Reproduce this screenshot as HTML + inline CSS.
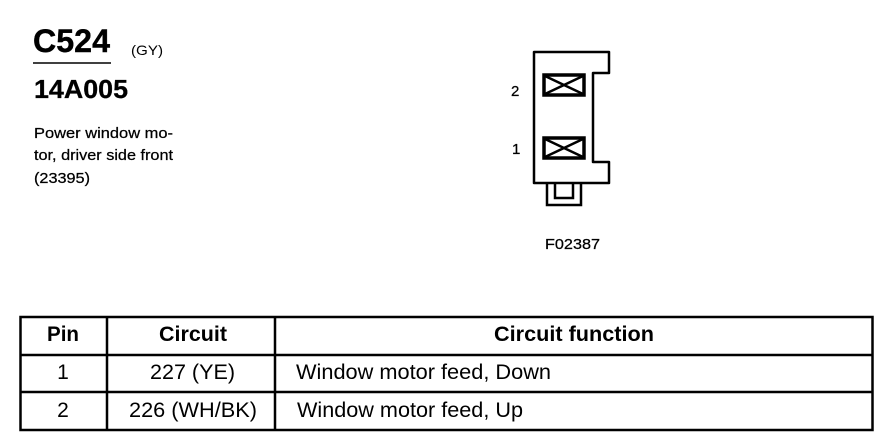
<!DOCTYPE html>
<html>
<head>
<meta charset="utf-8">
<style>
html,body{margin:0;padding:0;background:#fff;width:890px;height:448px;overflow:hidden}
svg{display:block}
text{font-family:"Liberation Sans",sans-serif;fill:#000}
</style>
</head>
<body>
<svg width="890" height="448" viewBox="0 0 890 448" xmlns="http://www.w3.org/2000/svg">
<!-- Header text -->
<text x="33" y="52" font-size="32" font-weight="bold" stroke="#000" stroke-width="0.4" textLength="77" lengthAdjust="spacingAndGlyphs">C524</text>
<text x="131" y="55" font-size="14" textLength="32" lengthAdjust="spacingAndGlyphs">(GY)</text>
<line x1="33" y1="63" x2="111" y2="63" stroke="#000" stroke-width="1.5"/>
<text x="34" y="98" font-size="25.5" font-weight="bold" stroke="#000" stroke-width="0.3" textLength="94" lengthAdjust="spacingAndGlyphs">14A005</text>
<g stroke="#000" stroke-width="0.25">
<text x="34" y="138" font-size="15" textLength="139" lengthAdjust="spacingAndGlyphs">Power window mo-</text>
<text x="34" y="160" font-size="15" textLength="139" lengthAdjust="spacingAndGlyphs">tor, driver side front</text>
<text x="34" y="183" font-size="15" textLength="56" lengthAdjust="spacingAndGlyphs">(23395)</text>
</g>

<!-- Connector -->
<path d="M534 52 H609 V73 H593 V162 H609 V183 H534 Z" fill="#fff" stroke="#000" stroke-width="2.5" stroke-linejoin="round"/>
<path d="M547 184 V205 H581 V184" fill="none" stroke="#000" stroke-width="2.5"/>
<path d="M555 184 V198 H573 V184" fill="none" stroke="#000" stroke-width="2.5"/>
<g fill="none" stroke="#000">
<rect x="544" y="75" width="40" height="20" stroke-width="3.5"/>
<path d="M545 76 L583 94 M583 76 L545 94" stroke-width="2.5"/>
<rect x="544" y="138" width="40" height="20" stroke-width="3.5"/>
<path d="M545 139 L583 157 M583 139 L545 157" stroke-width="2.5"/>
</g>
<text x="511" y="96" font-size="15" stroke="#000" stroke-width="0.25">2</text>
<text x="512" y="154" font-size="15" stroke="#000" stroke-width="0.25">1</text>
<text x="545" y="249" font-size="15" textLength="55" lengthAdjust="spacingAndGlyphs" stroke="#000" stroke-width="0.25">F02387</text>

<!-- Table -->
<g stroke="#000" stroke-width="2.5" fill="none">
<rect x="20.5" y="317" width="852" height="113"/>
<line x1="20" y1="355" x2="873" y2="355"/>
<line x1="20" y1="392" x2="873" y2="392"/>
<line x1="107" y1="317" x2="107" y2="430"/>
<line x1="275" y1="317" x2="275" y2="430"/>
</g>
<g font-size="21">
<text x="47" y="341" font-weight="bold" textLength="32" lengthAdjust="spacingAndGlyphs">Pin</text>
<text x="159" y="341" font-weight="bold" textLength="68" lengthAdjust="spacingAndGlyphs">Circuit</text>
<text x="494" y="341" font-weight="bold" textLength="160" lengthAdjust="spacingAndGlyphs">Circuit function</text>
<text x="63" y="379" text-anchor="middle">1</text>
<text x="150" y="379" textLength="85" lengthAdjust="spacingAndGlyphs">227 (YE)</text>
<text x="296" y="379" textLength="255" lengthAdjust="spacingAndGlyphs">Window motor feed, Down</text>
<text x="63" y="417" text-anchor="middle">2</text>
<text x="129" y="417" textLength="128" lengthAdjust="spacingAndGlyphs">226 (WH/BK)</text>
<text x="297" y="417" textLength="226" lengthAdjust="spacingAndGlyphs">Window motor feed, Up</text>
</g>
</svg>
</body>
</html>
